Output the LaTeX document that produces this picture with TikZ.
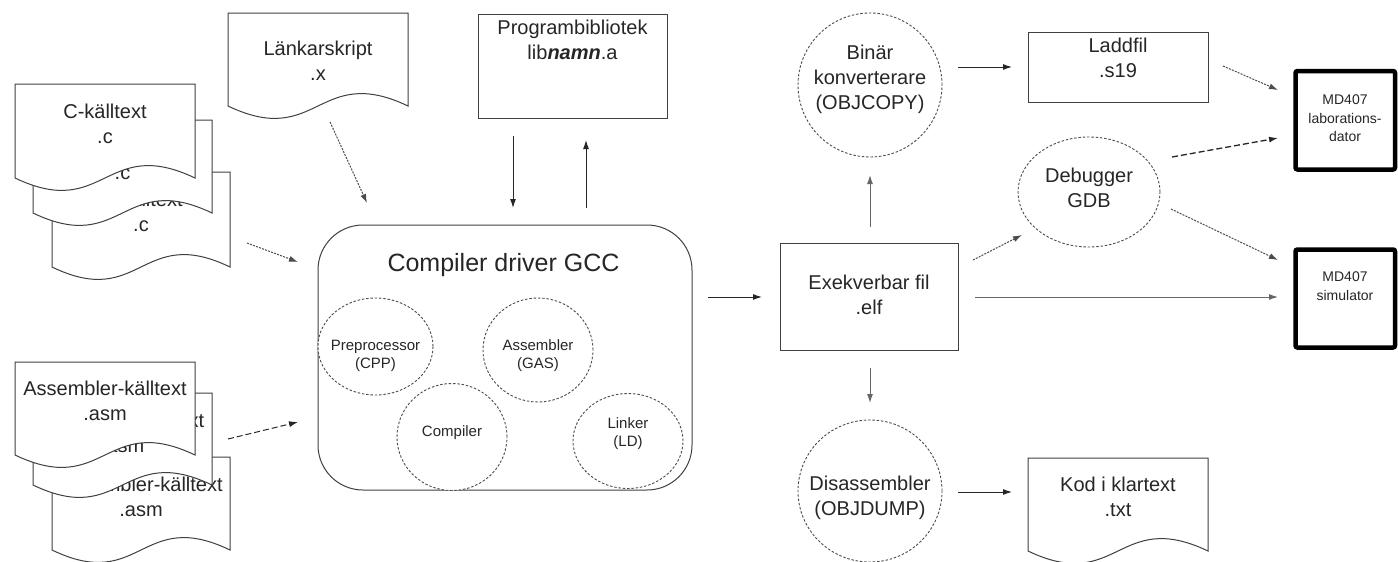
\documentclass[tikz,border=0pt]{standalone}
\usepackage{fontspec}
\setmainfont{Liberation Sans}
\usetikzlibrary{shapes.geometric,arrows.meta,calc}
\newcommand{\docdraw}[1]{\draw[docline] (#1.north west) -- (#1.north east) -- (#1.south east) .. controls ($(#1.south)+(0,-43)$) and ($(#1.south)+(0,43)$) .. (#1.south west) -- cycle;}
\begin{document}
\begin{tikzpicture}[x=1pt,y=-1pt,
  ghost/.style={rectangle, inner sep=0pt, outer sep=0pt},
  docline/.style={draw=black!75, line width=1pt, fill=white},
  boxnode/.style={rectangle, draw=black!75, line width=1pt, fill=white, inner sep=0pt, outer sep=0pt},
  dashell/.style={ellipse, draw=black!70, line width=0.9pt, dash pattern=on 2.5pt off 1.8pt, inner sep=0pt, outer sep=0pt, fill=white},
  bigtxt/.style={font=\fontsize{20}{25}\selectfont, align=center, text=black!85, inner sep=0pt},
  titletxt/.style={font=\fontsize{25}{30}\selectfont, align=center, text=black!85, inner sep=0pt},
  smalltxt/.style={font=\fontsize{15}{18}\selectfont, align=center, text=black!85, inner sep=0pt},
  tinytxt/.style={font=\fontsize{14}{18.5}\selectfont, align=center, text=black!85, inner sep=0pt},
  arr/.style={-{Latex[length=9pt,width=6pt]}, line width=1pt, draw=black!85},
  arrgray/.style={arr, draw=black!60},
  arrdot/.style={arr, draw=black!70, dash pattern=on 2pt off 1.2pt},
  arrdash/.style={arr, dash pattern=on 6pt off 3pt, line width=1.3pt},
  mdbox/.style={rectangle, draw=black, line width=4.5pt, rounded corners=2pt, inner sep=0pt, outer sep=0pt}
]
\fill[white] (0,0) rectangle (1398,562);
\useasboundingbox (0,0) rectangle (1398,562);

% C source stack
\node[ghost, minimum width=178, minimum height=95] (c3) at (141,219.5) {};
\docdraw{c3}
\node[bigtxt] (c3t) at (141,212) {C-källtext\\.c};
\node[ghost, minimum width=179, minimum height=93] (c2) at (122.5,166.5) {};
\docdraw{c2}
\node[bigtxt] (c2t) at (122.5,160) {C-källtext\\.c};
\node[ghost, minimum width=180, minimum height=94] (c1) at (105,131) {};
\docdraw{c1}
\node[bigtxt] (c1t) at (105,124) {C-källtext\\.c};

% Assembler source stack
\node[ghost, minimum width=178, minimum height=93] (a3) at (141,503.5) {};
\docdraw{a3}
\node[bigtxt] (a3t) at (141,497) {Assembler-källtext\\.asm};
\node[ghost, minimum width=179, minimum height=92] (a2) at (122.5,439) {};
\docdraw{a2}
\node[bigtxt] (a2t) at (122.5,433) {Assembler-källtext\\.asm};
\node[ghost, minimum width=180, minimum height=93] (a1) at (105,408.5) {};
\docdraw{a1}
\node[bigtxt] (a1t) at (105,401) {Assembler-källtext\\.asm};

% Linker script
\node[ghost, minimum width=180, minimum height=93] (lnk) at (318,59.5) {};
\docdraw{lnk}
\node[bigtxt] (lnkt) at (318,61) {Länkarskript\\.x};

% Library
\node[boxnode, minimum width=189, minimum height=104] (lib) at (572.5,66) {};
\node[bigtxt] (libt) at (572.5,40) {Programbibliotek\\lib\textbf{\textit{namn}}.a};

% Compiler driver
\node[boxnode, minimum width=374, minimum height=265, rounded corners=45pt] (gcc) at (505,357.5) {};
\node[titletxt] (gcct) at (503.5,265.5) {Compiler driver GCC};
\node[dashell, minimum width=115, minimum height=97] (pre) at (375.5,346.5) {};
\node[smalltxt] (pret) at (375.5,355.5) {Preprocessor\\(CPP)};
\node[dashell, minimum width=110, minimum height=104] (asm) at (538,350) {};
\node[smalltxt] (asmt) at (538,355.5) {Assembler\\(GAS)};
\node[dashell, minimum width=110, minimum height=107] (cmp) at (452,437) {};
\node[smalltxt] (cmpt) at (452,432.5) {Compiler};
\node[dashell, minimum width=110, minimum height=95] (lnkr) at (628,441) {};
\node[smalltxt] (lnkrt) at (628,433.5) {Linker\\(LD)};

% Executable
\node[boxnode, minimum width=178, minimum height=107] (exek) at (869,296.5) {};
\node[bigtxt] (exekt) at (869,295) {Exekverbar fil\\.elf};

% Binary converter
\node[dashell, minimum width=144, minimum height=144] (bin) at (870,85) {};
\node[bigtxt] (bint) at (870,79) {Binär\\konverterare\\(OBJCOPY)};

% Load file
\node[boxnode, minimum width=180, minimum height=70] (ladd) at (1118,67) {};
\node[bigtxt] (laddt) at (1118,57.5) {Laddfil\\.s19};

% Debugger
\node[dashell, minimum width=142, minimum height=110] (dbg) at (1089,192) {};
\node[bigtxt] (dbgt) at (1089,188) {Debugger\\GDB};

% Disassembler
\node[dashell, minimum width=144, minimum height=142] (dis) at (870,491) {};
\node[bigtxt] (dist) at (870,498) {Disassembler\\(OBJDUMP)};

% Plain text code
\node[ghost, minimum width=180, minimum height=93] (kod) at (1118,504.5) {};
\docdraw{kod}
\node[bigtxt] (kodt) at (1118,497) {Kod i klartext\\.txt};

% MD407 targets
\node[mdbox, minimum width=99.5, minimum height=98.5] (lab) at (1345.25,120.25) {};
\node[tinytxt] (labt) at (1345,118.5) {MD407\\laborations-\\dator};
\node[mdbox, minimum width=99.5, minimum height=98] (sim) at (1345.25,298.5) {};
\node[tinytxt] (simt) at (1345,286) {MD407\\simulator};

% Connectors
\draw[arrdot] ($(c3.east)+(17,23.5)$) -- ($(gcc.west)+(-20,-95.5)$);
\draw[arrdash, line width=1pt] ($(a2.east)+(16,0)$) -- ($(gcc.west)+(-20,64.5)$);
\draw[arrdot] ($(lnk.south)+(12,16)$) -- ($(gcc.north)+(-138,-22)$);
\draw[arr] ($(lib.south)+(-59.5,18)$) -- ($(gcc.north)+(8,-17)$);
\draw[arr] ($(gcc.north)+(81,-17)$) -- ($(lib.south)+(13.5,22)$);
\draw[arr] ($(gcc.east)+(16,-60.5)$) -- ($(exek.west)+(-18,0.5)$);
\draw[arrgray] ($(exek.north)+(1,-16)$) -- ($(bin.south)+(0,18)$);
\draw[arrgray] ($(exek.south)+(1,18)$) -- ($(dis.north)+(0,-17)$);
\draw[arrdot] ($(exek.north east)+(15,17)$) -- ($(dbg.west)+(4,43)$);
\draw[arrgray] ($(exek.east)+(17,0.5)$) -- ($(sim.west)+(-17.5,-1.5)$);
\draw[arr] ($(bin.east)+(16,-18)$) -- ($(ladd.west)+(-16,0)$);
\draw[arrdot] ($(ladd.east)+(15,-1)$) -- ($(lab.west)+(-17.5,-30.25)$);
\draw[arrdash] ($(dbg.east)+(12,-35)$) -- ($(lab.west)+(-17.5,17.75)$);
\draw[arrdot] ($(dbg.east)+(11,17)$) -- ($(sim.west)+(-17.5,-38.5)$);
\draw[arr] ($(dis.east)+(16,1)$) -- ($(kod.west)+(-16,-12.5)$);
\end{tikzpicture}
\end{document}
